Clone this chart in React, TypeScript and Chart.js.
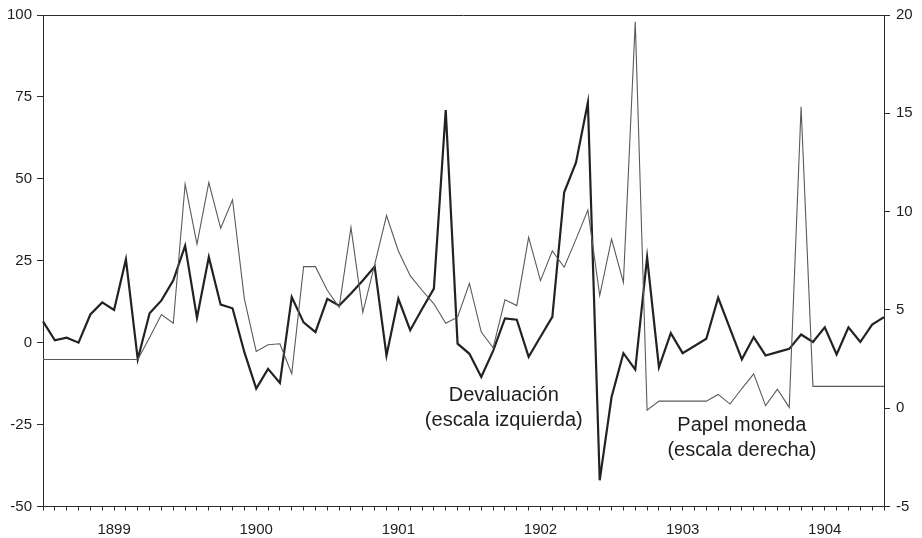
import React, { useEffect, useRef } from "react";
import { Chart, registerables } from "chart.js";

Chart.register(...registerables);

// ---- Data ----
const years = [1899, 1900, 1901, 1902, 1903, 1904];
const monthNumbers = [1, 2, 3, 4, 5, 6, 7, 8, 9, 10, 11, 12];
const categories: string[] = years.flatMap((y) => monthNumbers.map((m) => `${y}-${String(m).padStart(2, "0")}`));
const yearTickLabels = ["1899", "1900", "1901", "1902", "1903", "1904"];

// Devaluación (escala izquierda)
const devaluacion = [
  6.5, 0.7, 1.5, 0.0, 8.6, 12.3, 10.0, 25.4, -5.1, 9.0, 12.9, 19.0,
  29.6, 7.6, 26.1, 11.6, 10.5, -2.9, -14.0, -8.0, -12.3, 13.9, 6.2, 3.2,
  13.4, 11.3, 15.0, 19.0, 23.2, -3.9, 13.4, 3.8, 10.3, 16.5, 71.0, -0.3,
  -3.4, -10.5, -2.5, 7.4, 7.0, -4.3, 1.8, 7.9, 45.9, 55.0, 73.3, -42.0,
  -16.6, -3.2, -8.2, 26.0, -7.5, 2.9, -3.2, -1.0, 1.2, 13.7, 4.3, -5.1,
  1.7, -3.9, -2.9, -1.9, 2.5, 0.2, 4.7, -3.6, 4.7, 0.2, 5.5, 7.8,
];

// Papel moneda (escala derecha)
const papelMoneda = [
  2.48, 2.48, 2.48, 2.48, 2.48, 2.48, 2.48, 2.48, 2.48, 3.6, 4.76, 4.32,
  11.4, 8.35, 11.48, 9.15, 10.6, 5.56, 2.89, 3.23, 3.28, 1.75, 7.2, 7.2,
  6.0, 5.13, 9.2, 4.88, 7.3, 9.8, 8.0, 6.74, 6.0, 5.31, 4.32, 4.63,
  6.35, 3.87, 3.07, 5.51, 5.22, 8.69, 6.49, 8.0, 7.17, 8.6, 10.08, 5.73,
  8.6, 6.4, 19.66, -0.1, 0.36, 0.36, 0.36, 0.36, 0.36, 0.7, 0.21, 1.0,
  1.75, 0.13, 0.97, 0.04, 15.33, 1.11, 1.11, 1.11, 1.11, 1.11, 1.11, 1.11,
];

const leftTicks = [-50, -25, 0, 25, 50, 75, 100];
const rightTicks = [-5, 0, 5, 10, 15, 20];

// annotation labels (data coordinates: category index, axis value)
const devLabelLines = ["Devaluación", "(escala izquierda)"];
const devLabelAt = { index: 38.9, value: -16.0 };
const papLabelLines = ["Papel moneda", "(escala derecha)"];
const papLabelAt = { index: 59.0, value: -0.86 };

const AXIS_COLOR = "#2b2b2b";
const TEXT_COLOR = "#1e1e1e";
const FONT = "'Liberation Sans', Arial, Helvetica, sans-serif";

const framePlugin = {
  id: "frameAndNotes",
  afterDraw(chart: any) {
    const { ctx, chartArea, scales } = chart;
    ctx.save();
    ctx.strokeStyle = AXIS_COLOR;
    ctx.lineWidth = 1;
    ctx.beginPath();
    ctx.moveTo(chartArea.left, Math.round(chartArea.top) + 0.5);
    ctx.lineTo(chartArea.right, Math.round(chartArea.top) + 0.5);
    ctx.stroke();

    ctx.fillStyle = TEXT_COLOR;
    ctx.font = `20px ${FONT}`;
    ctx.textAlign = "center";
    ctx.textBaseline = "middle";
    const x = scales.x;
    const yl = scales.yLeft;
    const yr = scales.yRight;
    const dx = x.getPixelForValue(devLabelAt.index);
    const dy = yl.getPixelForValue(devLabelAt.value);
    devLabelLines.forEach((t, i) => ctx.fillText(t, dx, dy + i * 25));
    const px = x.getPixelForValue(papLabelAt.index);
    const py = yr.getPixelForValue(papLabelAt.value);
    papLabelLines.forEach((t, i) => ctx.fillText(t, px, py + i * 25));
    ctx.restore();
  },
};

export default function App() {
  const canvasRef = useRef<HTMLCanvasElement | null>(null);

  useEffect(() => {
    const canvas = canvasRef.current;
    if (!canvas) return;
    const chart = new Chart(canvas, {
      type: "line",
      data: {
        labels: categories,
        datasets: [
          {
            label: "Papel moneda",
            data: papelMoneda,
            yAxisID: "yRight",
            borderColor: "#5a5a5a",
            borderWidth: 1.1,
            pointRadius: 0,
            tension: 0,
            fill: false,
          },
          {
            label: "Devaluación",
            data: devaluacion,
            yAxisID: "yLeft",
            borderColor: "#222222",
            borderWidth: 2.2,
            pointRadius: 0,
            tension: 0,
            fill: false,
          },
        ],
      },
      options: {
        responsive: false,
        animation: false,
        devicePixelRatio: 1,
        layout: { padding: { top: 14, left: 0, right: 0, bottom: 0 } },
        plugins: {
          legend: { display: false },
          tooltip: { enabled: false },
        },
        scales: {
          x: {
            type: "category",
            offset: false,
            grid: {
              display: true,
              drawOnChartArea: false,
              drawTicks: true,
              tickLength: 4,
              color: AXIS_COLOR,
              lineWidth: 1,
              offset: false,
            },
            border: { display: true, color: AXIS_COLOR, width: 1 },
            ticks: {
              autoSkip: false,
              maxRotation: 0,
              minRotation: 0,
              padding: 10,
              color: TEXT_COLOR,
              font: { size: 15, family: FONT },
              callback: (_v: any, index: number) =>
                index % 12 === 6 ? yearTickLabels[Math.floor(index / 12)] : "",
            },
            afterFit: (scale: any) => {
              scale.height = 31.5;
            },
          },
          yLeft: {
            type: "linear",
            position: "left",
            min: leftTicks[0],
            max: leftTicks[leftTicks.length - 1],
            afterBuildTicks: (scale: any) => {
              scale.ticks = leftTicks.map((v) => ({ value: v }));
            },
            grid: {
              drawOnChartArea: false,
              drawTicks: true,
              tickLength: 6,
              color: AXIS_COLOR,
            },
            border: { display: true, color: AXIS_COLOR, width: 1 },
            ticks: {
              padding: 5,
              color: TEXT_COLOR,
              font: { size: 15, family: FONT },
            },
            afterFit: (scale: any) => {
              scale.width = 43;
            },
          },
          yRight: {
            type: "linear",
            position: "right",
            min: rightTicks[0],
            max: rightTicks[rightTicks.length - 1],
            afterBuildTicks: (scale: any) => {
              scale.ticks = rightTicks.map((v) => ({ value: v }));
            },
            grid: {
              drawOnChartArea: false,
              drawTicks: true,
              tickLength: 6,
              color: AXIS_COLOR,
            },
            border: { display: true, color: AXIS_COLOR, width: 1 },
            ticks: {
              padding: 6,
              color: TEXT_COLOR,
              font: { size: 15, family: FONT },
            },
            afterFit: (scale: any) => {
              scale.width = 38;
            },
          },
        },
      },
      plugins: [framePlugin],
    } as any);
    return () => chart.destroy();
  }, []);

  return (
    <div style={{ position: "fixed", left: 0, top: 0, width: 922, height: 538, background: "#ffffff" }}>
      <canvas ref={canvasRef} width={922} height={538} style={{ width: 922, height: 538, display: "block" }} />
    </div>
  );
}
